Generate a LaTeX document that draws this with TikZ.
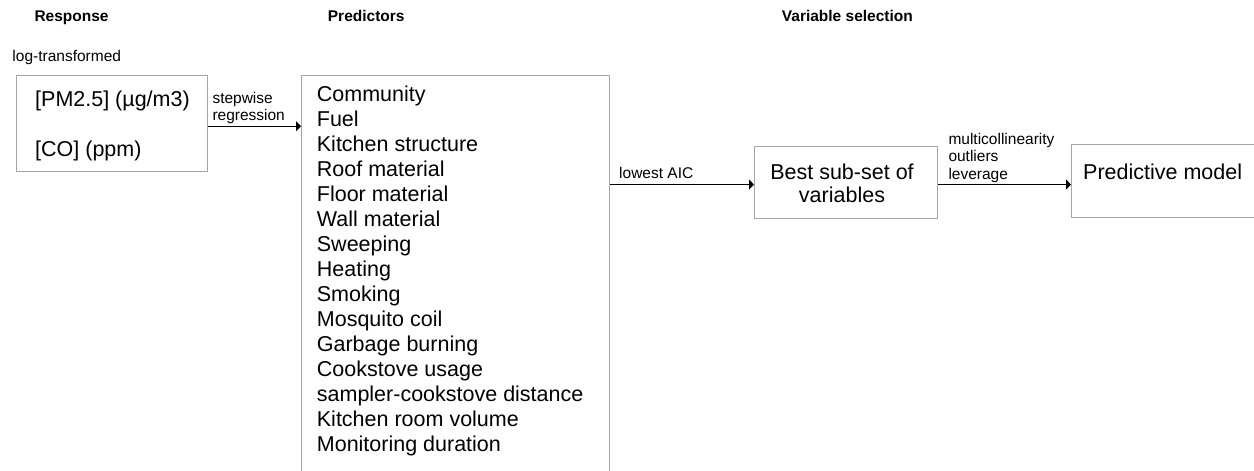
\documentclass[tikz,border=0pt]{standalone}
\usepackage{fontspec}
\setmainfont{Liberation Sans}
\usetikzlibrary{arrows.meta}
\begin{document}
\begin{tikzpicture}[x=1pt,y=-1pt,
  box/.style={draw=gray!70, line width=1.1pt, inner sep=0pt, anchor=north west},
  big/.style={font=\fontsize{21.5}{25}\selectfont, inner sep=0pt},
  small/.style={font=\fontsize{15.5}{17.5}\selectfont, inner sep=0pt},
  head/.style={font=\fontsize{15.5}{17.5}\selectfont\bfseries, inner sep=0pt, anchor=base west},
  arr/.style={-{Triangle[length=5pt,width=10pt]}, line width=1.3pt}]
\useasboundingbox (0,0) rectangle (1254,471);
\clip (0,0) rectangle (1254,471);
% boxes
\node[box, minimum width=191pt, minimum height=96pt] (resp) at (16,75) {};
\node[box, minimum width=308pt, minimum height=420pt] (pred) at (301,75) {};
\node[box, minimum width=183pt, minimum height=72pt] (best) at (754,146) {};
\node[box, minimum width=220pt, minimum height=73pt] (model) at (1071,144) {};
% headers
\node[head] (hresp) at (34.3,21.5) {Response};
\node[head] (hpred) at (327.7,21) {Predictors};
\node[head] (hvar) at (781.7,21) {Variable selection};
\node[small, anchor=base west] (logt) at (12.3,61) {log-transformed};
% texts
\node[big, anchor=base west] (pm) at (35,106) {[PM2.5] (µg/m3)};
\node[big, anchor=base west] (co) at (35,156) {[CO] (ppm)};
\node[big, anchor=north west, align=left] (plist) at (316.7,85.3) {Community\\Fuel\\Kitchen structure\\Roof material\\Floor material\\Wall material\\Sweeping\\Heating\\Smoking\\Mosquito coil\\Garbage burning\\Cookstove usage\\sampler-cookstove distance\\Kitchen room volume\\Monitoring duration};
\node[font=\fontsize{21.5}{23}\selectfont, inner sep=0pt, anchor=north, align=center] (besttext) at (842,163.3) {Best sub-set of\\variables};
\node[big, anchor=base west] (modeltext) at (1083,179) {Predictive model};
% connectors
\draw[arr] ([yshift=-2.7pt]resp.east) -- ([yshift=-2.7pt]resp.east -| pred.west);
\node[small, anchor=north west, align=left] (lstep) at (212.3,91.9) {stepwise\\regression};
\draw[arr] ([yshift=-2pt]best.west -| pred.east) -- ([yshift=-2pt]best.west);
\node[small, anchor=base west] (laic) at (619,178.3) {lowest AIC};
\draw[arr] ([yshift=-2pt]best.east) -- ([yshift=-2pt]best.east -| model.west);
\node[small, anchor=north west, align=left] (lmulti) at (948.3,132.9) {multicollinearity\\outliers\\leverage};
\end{tikzpicture}
\end{document}
